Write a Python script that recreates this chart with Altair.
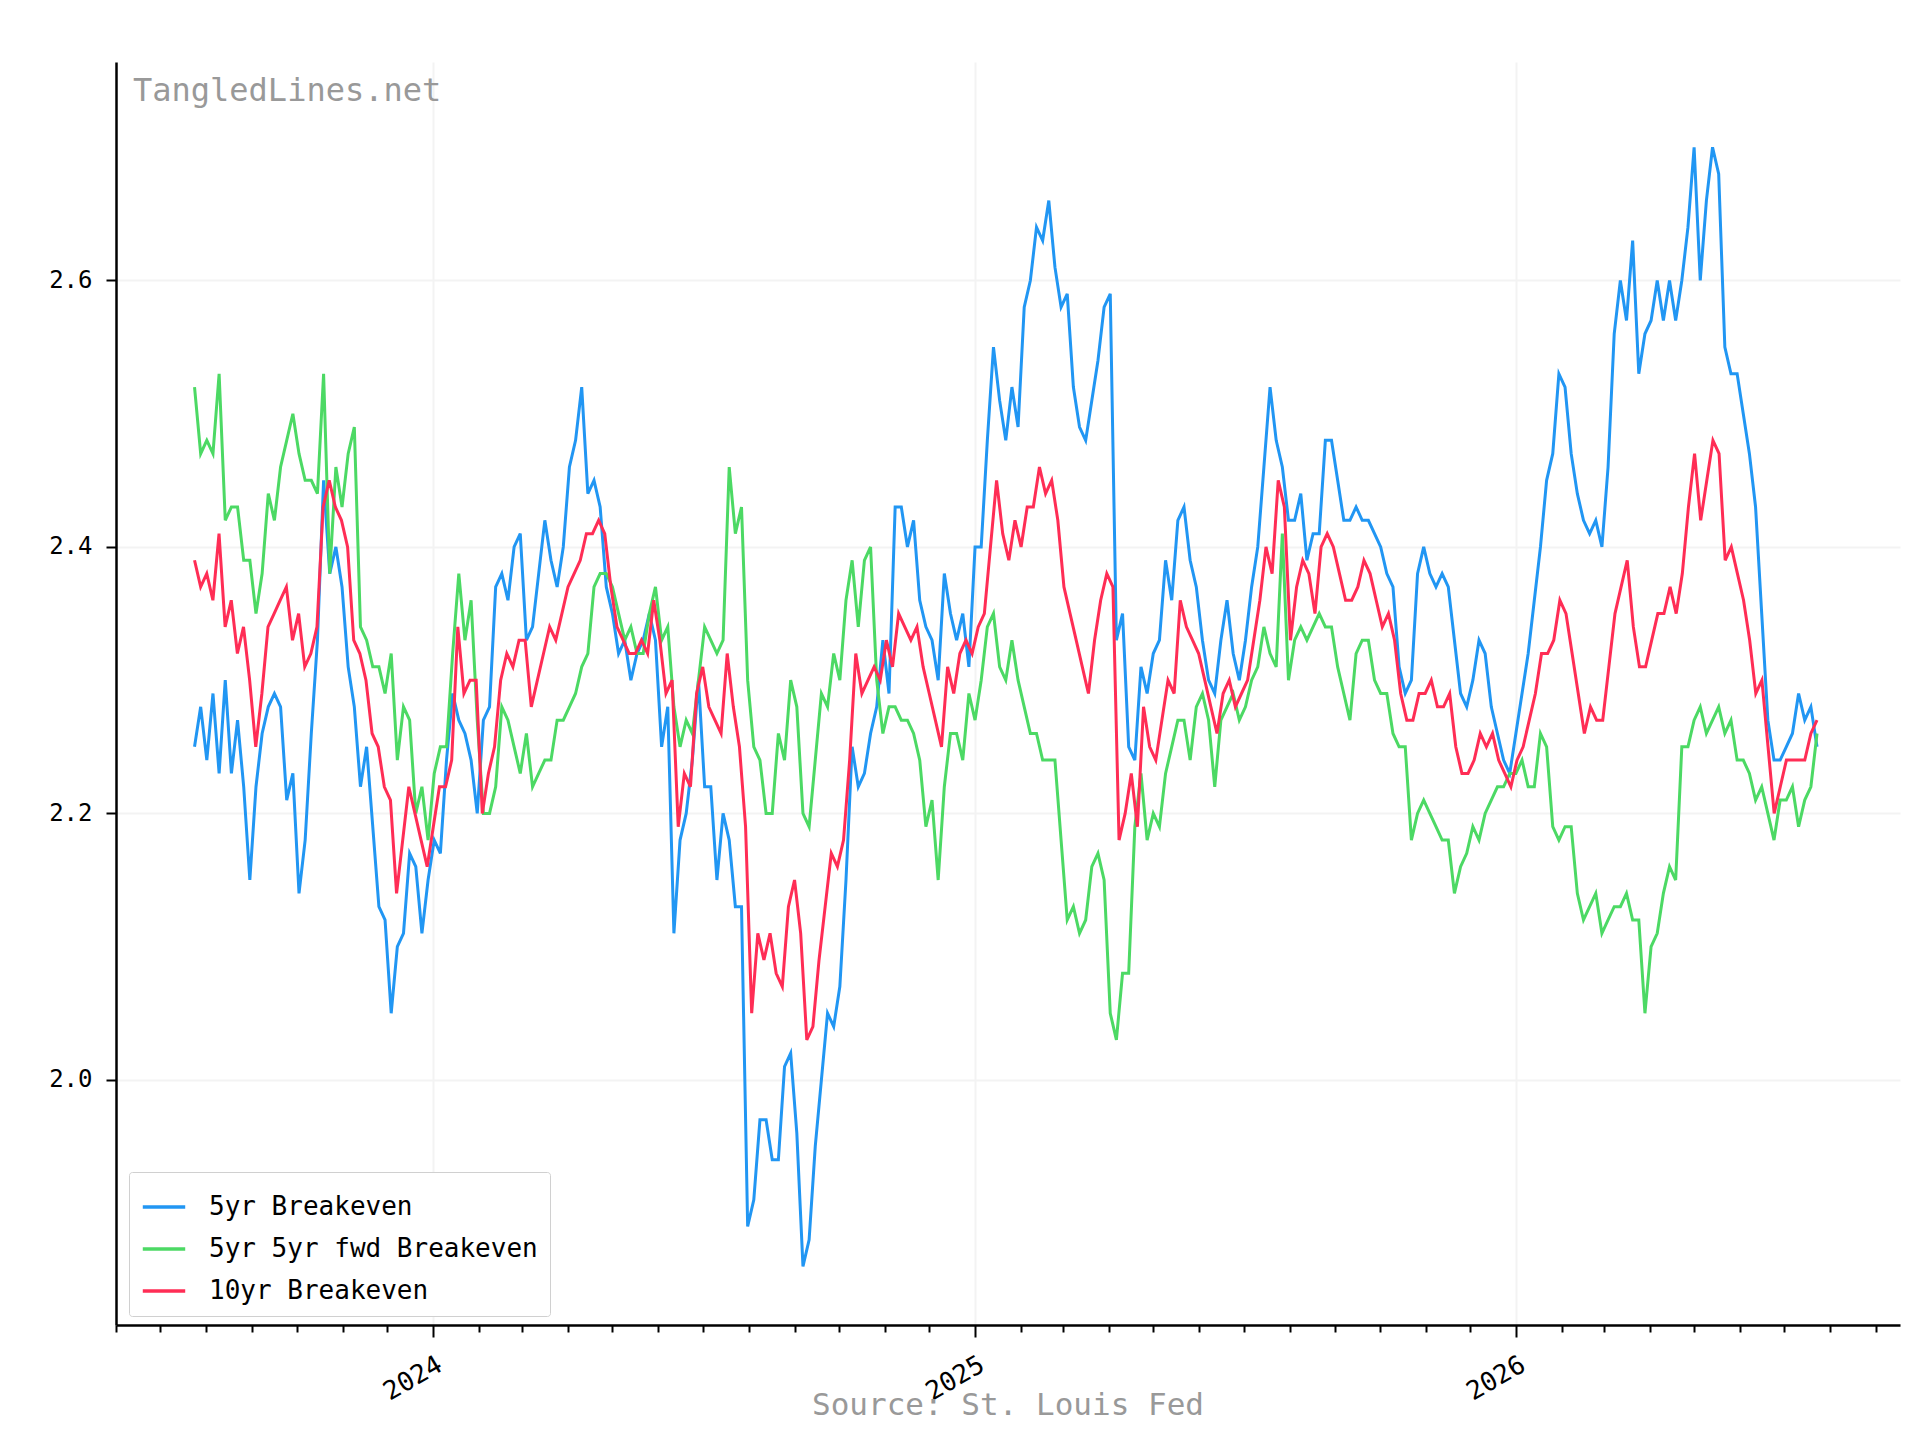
import altair as alt
import pandas as pd

# values, roughly every 4 days
be5 = [2.25, 2.28, 2.24, 2.29, 2.23, 2.30, 2.23, 2.27, 2.22, 2.15, 2.22, 2.26, 2.28, 2.29, 2.28, 2.21, 2.23, 2.14, 2.18, 2.26,
       2.33, 2.45, 2.38, 2.40, 2.37, 2.31, 2.28, 2.22, 2.25, 2.19, 2.13, 2.12, 2.05, 2.10, 2.11, 2.17, 2.16, 2.11, 2.15, 2.18,
       2.17, 2.24, 2.29, 2.27, 2.26, 2.24, 2.20, 2.27, 2.28, 2.37, 2.38, 2.36, 2.40, 2.41, 2.33, 2.34, 2.38, 2.42, 2.39, 2.37,
       2.40, 2.46, 2.48, 2.52, 2.44, 2.45, 2.43, 2.37, 2.35, 2.32, 2.33, 2.30, 2.32, 2.33, 2.35, 2.33, 2.25, 2.28, 2.11, 2.18,
       2.20, 2.24, 2.30, 2.22, 2.22, 2.15, 2.20, 2.18, 2.13, 2.13, 1.89, 1.91, 1.97, 1.97, 1.94, 1.94, 2.01, 2.02, 1.96, 1.86,
       1.88, 1.95, 2.00, 2.05, 2.04, 2.07, 2.15, 2.25, 2.22, 2.23, 2.26, 2.28, 2.33, 2.29, 2.43, 2.43, 2.40, 2.42, 2.36, 2.34,
       2.33, 2.30, 2.38, 2.35, 2.33, 2.35, 2.31, 2.40, 2.40, 2.48, 2.55, 2.51, 2.48, 2.52, 2.49, 2.58, 2.60, 2.64, 2.63, 2.66,
       2.61, 2.58, 2.59, 2.52, 2.49, 2.48, 2.51, 2.54, 2.58, 2.59, 2.33, 2.35, 2.25, 2.24, 2.31, 2.29, 2.32, 2.33, 2.39, 2.36,
       2.42, 2.43, 2.39, 2.37, 2.33, 2.30, 2.29, 2.33, 2.36, 2.32, 2.30, 2.33, 2.37, 2.40, 2.46, 2.52, 2.48, 2.46, 2.42, 2.42,
       2.44, 2.39, 2.41, 2.41, 2.48, 2.48, 2.45, 2.42, 2.42, 2.43, 2.42, 2.42, 2.41, 2.40, 2.38, 2.37, 2.31, 2.29, 2.30, 2.38,
       2.40, 2.38, 2.37, 2.38, 2.37, 2.33, 2.29, 2.28, 2.30, 2.33, 2.32, 2.28, 2.26, 2.24, 2.23, 2.26, 2.29, 2.32, 2.36, 2.40,
       2.45, 2.47, 2.53, 2.52, 2.47, 2.44, 2.42, 2.41, 2.42, 2.40, 2.46, 2.56, 2.60, 2.57, 2.63, 2.53, 2.56, 2.57, 2.60, 2.57,
       2.60, 2.57, 2.60, 2.64, 2.70, 2.60, 2.66, 2.70, 2.68, 2.55, 2.53, 2.53, 2.50, 2.47, 2.43, 2.35, 2.27, 2.24, 2.24, 2.25,
       2.26, 2.29, 2.27, 2.28, 2.25]

fwd5 = [2.52, 2.47, 2.48, 2.47, 2.53, 2.42, 2.43, 2.43, 2.39, 2.39, 2.35, 2.38, 2.44, 2.42, 2.46, 2.48, 2.50, 2.47, 2.45, 2.45,
        2.44, 2.53, 2.38, 2.46, 2.43, 2.47, 2.49, 2.34, 2.33, 2.31, 2.31, 2.29, 2.32, 2.24, 2.28, 2.27, 2.20, 2.22, 2.18, 2.23,
        2.25, 2.25, 2.32, 2.38, 2.33, 2.36, 2.27, 2.20, 2.20, 2.22, 2.28, 2.27, 2.25, 2.23, 2.26, 2.22, 2.23, 2.24, 2.24, 2.27,
        2.27, 2.28, 2.29, 2.31, 2.32, 2.37, 2.38, 2.38, 2.37, 2.35, 2.33, 2.34, 2.32, 2.32, 2.35, 2.37, 2.33, 2.34, 2.28, 2.25,
        2.27, 2.26, 2.30, 2.34, 2.33, 2.32, 2.33, 2.46, 2.41, 2.43, 2.30, 2.25, 2.24, 2.20, 2.20, 2.26, 2.24, 2.30, 2.28, 2.20,
        2.19, 2.24, 2.29, 2.28, 2.32, 2.30, 2.36, 2.39, 2.34, 2.39, 2.40, 2.30, 2.26, 2.28, 2.28, 2.27, 2.27, 2.26, 2.24, 2.19,
        2.21, 2.15, 2.22, 2.26, 2.26, 2.24, 2.29, 2.27, 2.30, 2.34, 2.35, 2.31, 2.30, 2.33, 2.30, 2.28, 2.26, 2.26, 2.24, 2.24,
        2.24, 2.18, 2.12, 2.13, 2.11, 2.12, 2.16, 2.17, 2.15, 2.05, 2.03, 2.08, 2.08, 2.19, 2.23, 2.18, 2.20, 2.19, 2.23, 2.25,
        2.27, 2.27, 2.24, 2.28, 2.29, 2.27, 2.22, 2.27, 2.28, 2.29, 2.27, 2.28, 2.30, 2.31, 2.34, 2.32, 2.31, 2.41, 2.30, 2.33,
        2.34, 2.33, 2.34, 2.35, 2.34, 2.34, 2.31, 2.29, 2.27, 2.32, 2.33, 2.33, 2.30, 2.29, 2.29, 2.26, 2.25, 2.25, 2.18, 2.20,
        2.21, 2.20, 2.19, 2.18, 2.18, 2.14, 2.16, 2.17, 2.19, 2.18, 2.20, 2.21, 2.22, 2.22, 2.23, 2.23, 2.24, 2.22, 2.22, 2.26,
        2.25, 2.19, 2.18, 2.19, 2.19, 2.14, 2.12, 2.13, 2.14, 2.11, 2.12, 2.13, 2.13, 2.14, 2.12, 2.12, 2.05, 2.10, 2.11, 2.14,
        2.16, 2.15, 2.25, 2.25, 2.27, 2.28, 2.26, 2.27, 2.28, 2.26, 2.27, 2.24, 2.24, 2.23, 2.21, 2.22, 2.20, 2.18, 2.21, 2.21,
        2.22, 2.19, 2.21, 2.22, 2.26]

be10 = [2.39, 2.37, 2.38, 2.36, 2.41, 2.34, 2.36, 2.32, 2.34, 2.30, 2.25, 2.29, 2.34, 2.35, 2.36, 2.37, 2.33, 2.35, 2.31, 2.32,
        2.34, 2.43, 2.45, 2.43, 2.42, 2.40, 2.33, 2.32, 2.30, 2.26, 2.25, 2.22, 2.21, 2.14, 2.18, 2.22, 2.20, 2.18, 2.16, 2.19,
        2.22, 2.22, 2.24, 2.34, 2.29, 2.30, 2.30, 2.20, 2.23, 2.25, 2.30, 2.32, 2.31, 2.33, 2.33, 2.28, 2.30, 2.32, 2.34, 2.33,
        2.35, 2.37, 2.38, 2.39, 2.41, 2.41, 2.42, 2.41, 2.37, 2.34, 2.33, 2.32, 2.32, 2.33, 2.32, 2.36, 2.33, 2.29, 2.30, 2.19,
        2.23, 2.22, 2.29, 2.31, 2.28, 2.27, 2.26, 2.32, 2.28, 2.25, 2.19, 2.05, 2.11, 2.09, 2.11, 2.08, 2.07, 2.13, 2.15, 2.11,
        2.03, 2.04, 2.09, 2.13, 2.17, 2.16, 2.18, 2.24, 2.32, 2.29, 2.30, 2.31, 2.30, 2.33, 2.31, 2.35, 2.34, 2.33, 2.34, 2.31,
        2.29, 2.27, 2.25, 2.31, 2.29, 2.32, 2.33, 2.32, 2.34, 2.35, 2.40, 2.45, 2.41, 2.39, 2.42, 2.40, 2.43, 2.43, 2.46, 2.44,
        2.45, 2.42, 2.37, 2.35, 2.33, 2.31, 2.29, 2.33, 2.36, 2.38, 2.37, 2.18, 2.20, 2.23, 2.19, 2.28, 2.25, 2.24, 2.27, 2.30,
        2.29, 2.36, 2.34, 2.33, 2.32, 2.30, 2.28, 2.26, 2.29, 2.30, 2.28, 2.29, 2.30, 2.33, 2.36, 2.40, 2.38, 2.45, 2.43, 2.33,
        2.37, 2.39, 2.38, 2.35, 2.40, 2.41, 2.40, 2.38, 2.36, 2.36, 2.37, 2.39, 2.38, 2.36, 2.34, 2.35, 2.33, 2.29, 2.27, 2.27,
        2.29, 2.29, 2.30, 2.28, 2.28, 2.29, 2.25, 2.23, 2.23, 2.24, 2.26, 2.25, 2.26, 2.24, 2.23, 2.22, 2.24, 2.25, 2.27, 2.29,
        2.32, 2.32, 2.33, 2.36, 2.35, 2.32, 2.29, 2.26, 2.28, 2.27, 2.27, 2.31, 2.35, 2.37, 2.39, 2.34, 2.31, 2.31, 2.33, 2.35,
        2.35, 2.37, 2.35, 2.38, 2.43, 2.47, 2.42, 2.45, 2.48, 2.47, 2.39, 2.40, 2.38, 2.36, 2.33, 2.29, 2.30, 2.25, 2.20, 2.22,
        2.24, 2.24, 2.24, 2.24, 2.26, 2.27]

series_names = ['5yr Breakeven', '5yr 5yr fwd Breakeven', '10yr Breakeven']
series_colors = ['#2196f3', '#4cd964', '#ff2d55']
start, end = '2023-07-24', '2026-07-23'

frames = []
for name, vals in zip(series_names, [be5, fwd5, be10]):
    d = pd.DataFrame({'date': pd.date_range(start, end, periods=len(vals)), 'value': vals})
    d['series'] = name
    frames.append(d)
df = pd.concat(frames)

month_ticks = [alt.DateTime(year=y, month=m, date=1) for y in range(2023, 2027) for m in range(1, 13)
               if (2023, 6) <= (y, m) <= (2026, 9)]

font = 'DejaVu Sans Mono'

lines = alt.Chart(df).mark_line(strokeWidth=3).encode(
    x=alt.X('date:T', title=None,
            scale=alt.Scale(domain=[alt.DateTime(year=2023, month=6, date=1), alt.DateTime(year=2026, month=9, date=17)]),
            axis=alt.Axis(values=month_ticks, labelOverlap=False, labelFontSize=26,
                          labelExpr="month(datum.value) == 0 ? timeFormat(datum.value, '%Y') : ''",
                          labelAngle=-30, labelAlign='right', labelBaseline='top', labelPadding=14,
                          tickSize={'condition': {'test': 'month(datum.value) == 0', 'value': 12}, 'value': 7},
                          gridOpacity={'condition': {'test': 'month(datum.value) == 0', 'value': 1}, 'value': 0})),
    y=alt.Y('value:Q', title=None,
            scale=alt.Scale(domain=[1.816, 2.764], nice=False, zero=False),
            axis=alt.Axis(values=[2.0, 2.2, 2.4, 2.6], format='.1f', tickSize=10, labelPadding=14)),
    color=alt.Color('series:N', sort=series_names,
                    scale=alt.Scale(domain=series_names, range=series_colors),
                    legend=alt.Legend(title=None, orient='none', legendX=13, legendY=1110,
                                      symbolType='stroke', symbolStrokeWidth=3.5, symbolSize=1800,
                                      labelFontSize=26, labelFont=font, labelLimit=800, rowPadding=6,
                                      padding=12, strokeColor='#d0d0d0', fillColor='white',
                                      cornerRadius=3, labelOffset=22))
)

brand = alt.Chart().mark_text(align='left', baseline='top', font=font, fontSize=32, color='#999999').encode(
    x=alt.value(17), y=alt.value(14), text=alt.value('TangledLines.net'))

chart = alt.layer(lines, brand).properties(
    width=1784, height=1263,
    autosize=alt.AutoSizeParams(type='none'),
    padding={'left': 108, 'top': 54, 'right': 12, 'bottom': 100},
    title=alt.Title('Source: St. Louis Fed', orient='bottom', color='#999999', font=font,
                    fontSize=31, fontWeight='normal', offset=-14)
).configure_view(stroke=None).configure_axis(
    labelFont=font, labelFontSize=24, labelColor='black', domainColor='black', domainWidth=2.5,
    tickColor='black', tickWidth=2, gridColor='#f3f3f3', gridWidth=2
).configure_axisY(grid=True)

chart.save('out.html', embed_options={'renderer': 'svg', 'actions': False})
